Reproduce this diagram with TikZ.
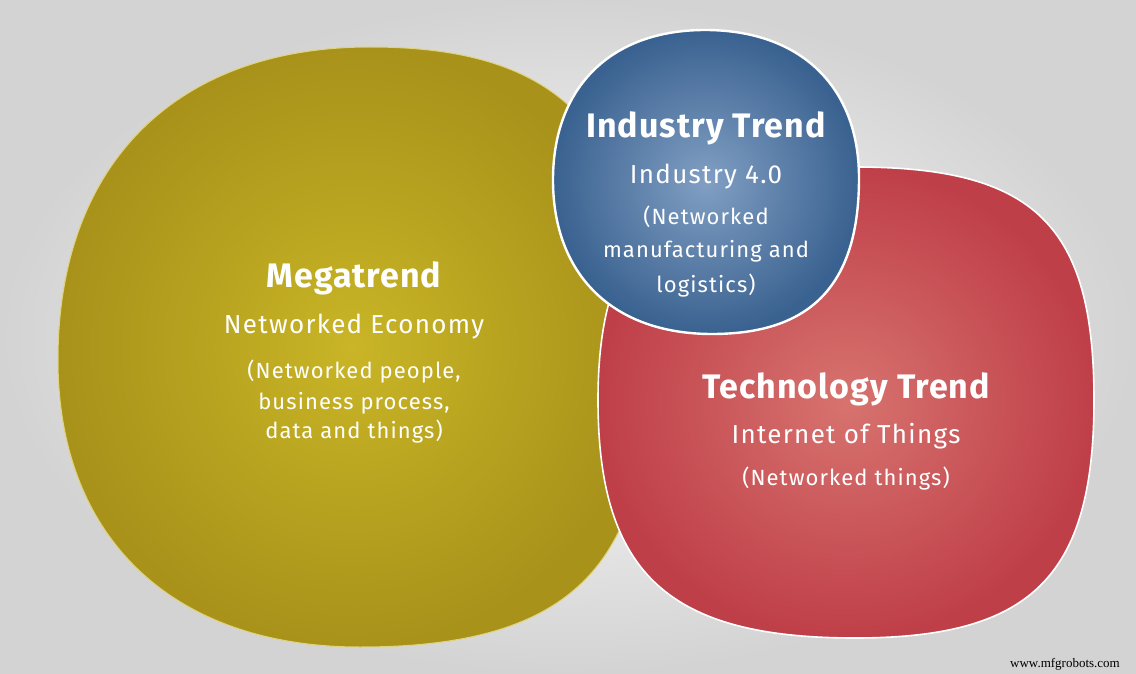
\documentclass[tikz,border=0pt]{standalone}
\usepackage{fontspec}
\setmainfont{Fira Sans}
\newfontfamily\widefont{Fira Sans}[LetterSpace=5]
\newfontfamily\boldwidefont{Fira Sans Bold}[LetterSpace=3]
\newfontfamily\markfont{Liberation Serif}
\definecolor{olivedark}{HTML}{A8921A}
\definecolor{olivelight}{HTML}{C9B526}
\definecolor{reddark}{HTML}{BF3F48}
\definecolor{redlight}{HTML}{D7736F}
\definecolor{bluedark}{HTML}{3A6290}
\definecolor{bluelight}{HTML}{819FC3}
\definecolor{bgedge}{HTML}{D3D3D3}
\begin{document}
\begin{tikzpicture}[x=1pt, y=-1pt,
    blob/.style={draw=white, line width=1.6pt},
    title/.style={text=white, font=\boldwidefont\fontsize{34}{34}\selectfont, anchor=base, inner sep=0pt},
    sub/.style={text=white, font=\widefont\fontsize{26}{26}\selectfont, anchor=base, inner sep=0pt},
    note/.style={text=white, font=\widefont\fontsize{22}{22}\selectfont, anchor=base, inner sep=0pt}]
  \useasboundingbox (0,0) rectangle (1136,674);
  \shade [inner color=white, outer color=bgedge] (0,0) rectangle (1136,674);
  \shade [blob, draw=olivelight!60!white, line width=1pt, inner color=olivelight, outer color=olivedark]
    (370,47) .. controls (570,47) and (648,137) .. (648,370)
    .. controls (648,569) and (567,647) .. (360,647)
    .. controls (173,647) and (58,538) .. (58,360)
    .. controls (58,165) and (175,47) .. cycle;
  \shade [blob, inner color=redlight, outer color=reddark]
    (855,167) .. controls (1035,167) and (1094,225) .. (1094,400)
    .. controls (1094,578) and (1030,638) .. (855,638)
    .. controls (670,638) and (598,575) .. (598,400)
    .. controls (598,230) and (670,167) .. cycle;
  \shade [blob, line width=2.4pt, inner color=bluelight, outer color=bluedark]
    (705,30) .. controls (800,30) and (859,86) .. (859,178)
    .. controls (859,284) and (812,334) .. (712,334)
    .. controls (613,334) and (553,275) .. (553,180)
    .. controls (553,87) and (611,30) .. cycle;
  \node [title] (megatitle) at (354,287) {Megatrend};
  \node [sub] (megasub) at (354,333) {Networked Economy};
  \node [note] (meganote1) at (354,378) {(Networked people,};
  \node [note] (meganote2) at (354,409) {business process,};
  \node [note] (meganote3) at (354,438) {data and things)};
  \node [title] (indtitle) at (706,138) {Industry Trend};
  \node [sub] (indsub) at (706,183) {Industry 4.0};
  \node [note] (indnote1) at (706,224) {(Networked};
  \node [note] (indnote2) at (706,257) {manufacturing and};
  \node [note] (indnote3) at (706,292) {logistics)};
  \node [title] (techtitle) at (846,398) {Technology Trend};
  \node [sub] (techsub) at (846,443) {Internet of Things};
  \node [note] (technote) at (846,485) {(Networked things)};
  \node [anchor=base, inner sep=0pt, font=\markfont\fontsize{13}{13}\selectfont] (mark) at (1065,667) {www.mfgrobots.com};
\end{tikzpicture}
\end{document}
